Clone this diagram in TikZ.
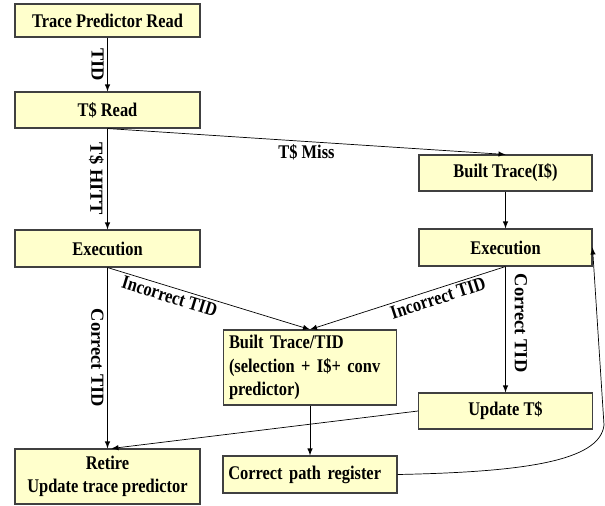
\documentclass[tikz,border=0pt]{standalone}
\usepackage{fontspec}
\setmainfont{Liberation Serif}[FakeStretch=0.85]
\newfontfamily\uprightlab{Liberation Serif}
\usetikzlibrary{arrows}

\begin{document}
\begin{tikzpicture}[x=0.02cm,y=-0.02cm]
\tikzstyle{every node}=[font=\fontsize{11}{13.3}\selectfont\bfseries];
\tikzstyle{blk}=[draw=black!75,fill={rgb,255:red,255;green,255;blue,204},line width=0.6pt,inner sep=3pt];
\tikzstyle{vlab}=[font=\uprightlab\fontsize{10.5}{12}\selectfont\bfseries,rotate=-90,inner sep=2pt];
\tikzstyle{lab}=[inner sep=1.5pt];
\useasboundingbox (0,0) rectangle (605,505);
% left column
\node[blk,minimum width=3.7cm,minimum height=0.66cm] (tpr) at (107.5,20.5) {Trace Predictor Read};
\node[blk,minimum width=3.7cm,minimum height=0.72cm] (tsr) at (107.5,110) {T\$ Read};
\node[blk,minimum width=3.7cm,minimum height=0.74cm] (exl) at (107.5,248.5) {Execution};
\node[blk,minimum width=3.7cm,minimum height=1.1cm,align=center] (ret) at (107.5,476.5) {Retire\\Update trace predictor};
% middle column
\node[blk,minimum width=3.44cm,minimum height=1.5cm,text width=3.24cm,align=left] (btt) at (310,367.5) {Built Trace/TID\\(selection + I\$+ conv\\predictor)};
\node[blk,minimum width=3.48cm,minimum height=0.74cm,text width=3.27cm,align=left] (cpr) at (310,474.5) {Correct path register};
% right column
\node[blk,minimum width=3.46cm,minimum height=0.72cm] (bti) at (505.5,173) {Built Trace(I\$)};
\node[blk,minimum width=3.46cm,minimum height=0.74cm] (exr) at (505.5,247.5) {Execution};
\node[blk,minimum width=3.48cm,minimum height=0.72cm] (upd) at (505.5,411) {Update T\$};

\draw [->,>=latex] (tpr) -- node[vlab,anchor=north] {TID} (tsr);
\draw [->,>=latex] (tsr) -- node[vlab,anchor=north] {T\$ HITT} (exl);
\draw [->,>=latex] (tsr.south) -- node[lab,below] {T\$ Miss} (bti.north);
\foreach \from/\to in {bti/exr, btt/cpr}
    \draw [->,>=latex] (\from) -- (\to);
\draw [->,>=latex] (exl) -- node[vlab,anchor=north] {Correct TID} (ret);
\draw [->,>=latex] (exl.south) -- node[lab,sloped,below,pos=0.32] {Incorrect TID} (btt.north);
\draw [->,>=latex] (exr.south) -- node[lab,sloped,below,pos=0.36] {Incorrect TID} (btt.north);
\draw [->,>=latex] (exr) -- node[vlab,anchor=south,pos=0.45,inner sep=5pt] {Correct TID} (upd);
\draw [->,>=latex] (upd.west) -- ([xshift=0.08cm]ret.north);
\draw [->,>=latex] (cpr.east) .. controls (520,472) and (600,462) .. (604,425) -- (exr.east);
\end{tikzpicture}
\end{document}
